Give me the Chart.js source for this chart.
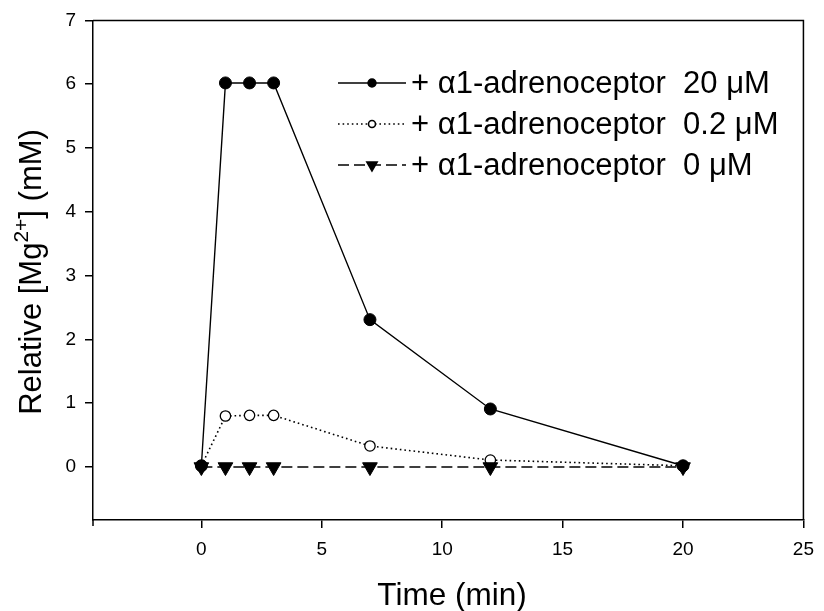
<!DOCTYPE html>
<html>
<head>
<meta charset="utf-8">
<script src="https://cdn.jsdelivr.net/npm/chart.js@4/dist/chart.umd.min.js"></script>
<style>
  html, body { margin: 0; padding: 0; background: #fff; }
  #wrap { width: 824px; height: 611px; }
</style>
</head>
<body>
<div id="wrap"><canvas id="c" width="824" height="611"></canvas></div>
<script>
// time points (min)
const times = [0, 1, 2, 3, 7, 12, 20];
// relative [Mg2+] (mM) for each dose
const dose20 = [0.02, 6.02, 6.02, 6.02, 2.31, 0.91, 0.02];
const dose02 = [0.02, 0.80, 0.81, 0.81, 0.33, 0.11, 0.02];
const dose0 = [0, 0, 0, 0, 0, 0, 0];
const labels = [
    '+ \u03b11-adrenoceptor  20 \u03bcM',
    '+ \u03b11-adrenoceptor  0.2 \u03bcM',
    '+ \u03b11-adrenoceptor  0 \u03bcM'
];
const xTicks = [0, 5, 10, 15, 20, 25];
const yTicks = [0, 1, 2, 3, 4, 5, 6, 7];

const FONT = '"Liberation Sans", Arial, sans-serif';

function pts(ys) {
    return times.map((t, i) => ({ x: t, y: ys[i] }));
}

// box frame (top + right) and the little overhang of the y axis
const framePlugin = {
    id: 'frame',
    afterDraw(chart) {
        const { ctx, chartArea: a } = chart;
        ctx.save();
        ctx.strokeStyle = '#000';
        ctx.lineWidth = 1.5;
        ctx.beginPath();
        ctx.moveTo(a.left, a.top);
        ctx.lineTo(a.right, a.top);
        ctx.lineTo(a.right, a.bottom);
        ctx.moveTo(a.left, a.bottom);
        ctx.lineTo(a.left, a.bottom + 6);
        ctx.stroke();
        ctx.restore();
    }
};

// axis titles, with the superscript on Mg
const titlePlugin = {
    id: 'titles',
    afterDraw(chart) {
        const { ctx, chartArea: a } = chart;
        ctx.save();
        ctx.fillStyle = '#000';
        ctx.textBaseline = 'alphabetic';
        ctx.font = '31.5px ' + FONT;
        ctx.textAlign = 'center';
        ctx.fillText('Time (min)', 452, 605);

        // y title
        const big = '31px ' + FONT, small = '21px ' + FONT;
        const parts = [
            { t: 'Relative [Mg', f: big, dy: 0 },
            { t: '2+', f: small, dy: -13 },
            { t: '] (mM)', f: big, dy: 0 }
        ];
        let total = 0;
        parts.forEach(p => { ctx.font = p.f; p.w = ctx.measureText(p.t).width; total += p.w; });
        ctx.translate(41, 272);
        ctx.rotate(-Math.PI / 2);
        ctx.textAlign = 'left';
        let x = -total / 2;
        parts.forEach(p => {
            ctx.font = p.f;
            ctx.fillText(p.t, x, p.dy);
            x += p.w;
        });
        ctx.restore();
    }
};

// legend inside the plot, top right
const legendPlugin = {
    id: 'inLegend',
    afterDraw(chart) {
        const ctx = chart.ctx;
        const sizes = [4, 3.5, 6];
        ctx.save();
        chart.data.datasets.forEach((ds, i) => {
            const y = 83 + i * 41;
            ctx.strokeStyle = '#000';
            ctx.lineWidth = ds.borderWidth;
            ctx.setLineDash(ds.borderDash || []);
            ctx.beginPath();
            ctx.moveTo(338, y);
            ctx.lineTo(406, y);
            ctx.stroke();
            ctx.setLineDash([]);
            ctx.fillStyle = ds.pointBackgroundColor;
            ctx.strokeStyle = '#000';
            Chart.helpers.drawPoint(ctx, {
                pointStyle: ds.pointStyle,
                radius: sizes[i],
                rotation: ds.pointRotation || 0,
                borderWidth: 1
            }, 372, y);
            ctx.fillStyle = '#000';
            ctx.font = '31px ' + FONT;
            ctx.textAlign = 'left';
            ctx.textBaseline = 'middle';
            ctx.fillText(ds.label, 411, y + 1);
        });
        ctx.restore();
    }
};

new Chart(document.getElementById('c'), {
    type: 'scatter',
    data: {
        datasets: [
            {
                label: labels[0],
                data: pts(dose20),
                showLine: true,
                borderColor: '#000',
                borderWidth: 1.4,
                pointStyle: 'circle',
                pointRadius: 6,
                pointBackgroundColor: '#000',
                pointBorderColor: '#000',
                pointBorderWidth: 1,
                order: 2
            },
            {
                label: labels[1],
                data: pts(dose02),
                showLine: true,
                borderColor: '#000',
                borderWidth: 1.6,
                borderDash: [1.6, 3],
                pointStyle: 'circle',
                pointRadius: 5.2,
                pointBackgroundColor: '#fff',
                pointBorderColor: '#000',
                pointBorderWidth: 1.3,
                order: 3
            },
            {
                label: labels[2],
                data: pts(dose0),
                showLine: true,
                borderColor: '#000',
                borderWidth: 1.5,
                borderDash: [11, 5],
                pointStyle: 'triangle',
                pointRotation: 180,
                pointRadius: 8.5,
                pointBackgroundColor: '#000',
                pointBorderColor: '#000',
                pointBorderWidth: 1,
                order: 1
            }
        ]
    },
    options: {
        responsive: false,
        animation: false,
        events: [],
        layout: { padding: { top: 20, right: 13, left: 0, bottom: 0 } },
        plugins: { legend: { display: false }, tooltip: { enabled: false } },
        scales: {
            x: {
                type: 'linear',
                min: -4.5,
                max: 25,
                afterBuildTicks(s) { s.ticks = xTicks.map(v => ({ value: v })); },
                afterFit(s) { s.height = 91; },
                grid: { drawOnChartArea: false, drawTicks: true, tickLength: 8, color: '#000', lineWidth: 1.5 },
                border: { display: true, color: '#000', width: 1.5 },
                ticks: { color: '#000', font: { family: FONT, size: 19 }, padding: 10, maxRotation: 0 }
            },
            y: {
                type: 'linear',
                min: -0.83,
                max: 7,
                afterBuildTicks(s) { s.ticks = yTicks.map(v => ({ value: v })); },
                afterFit(s) { s.width = 93; },
                grid: { drawOnChartArea: false, drawTicks: true, tickLength: 8, color: '#000', lineWidth: 1.5 },
                border: { display: true, color: '#000', width: 1.5 },
                ticks: { color: '#000', font: { family: FONT, size: 19 }, padding: 9 }
            }
        }
    },
    plugins: [framePlugin, titlePlugin, legendPlugin]
});
</script>
</body>
</html>
